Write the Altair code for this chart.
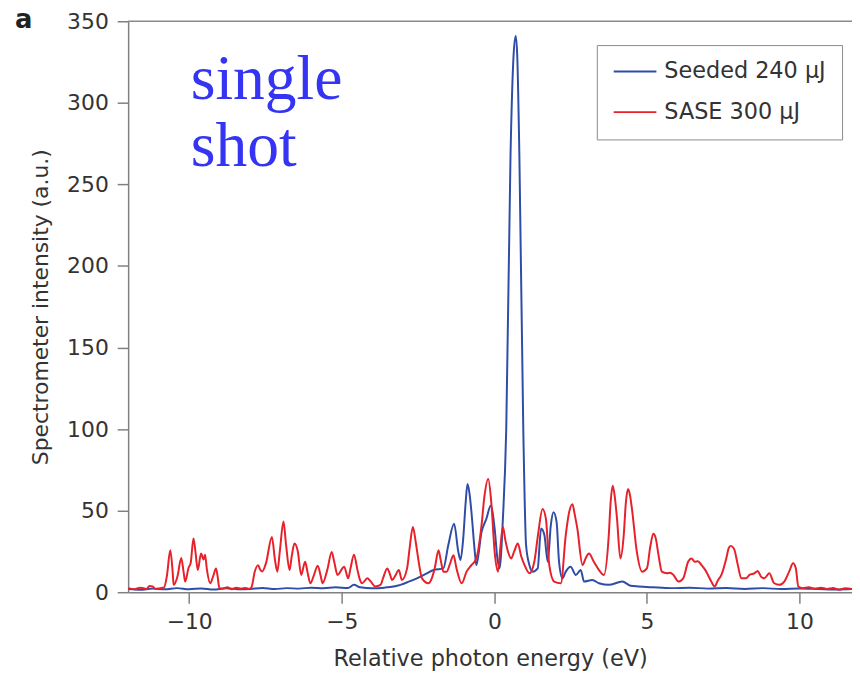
import altair as alt
import pandas as pd

# ---- data -------------------------------------------------------------
seeded_energy = [
    -12.0, -11.6, -11.2, -10.8, -10.4, -10.0, -9.6, -9.2, -8.8, -8.4,
    -8.0, -7.6, -7.2, -6.8, -6.4, -6.0, -5.6, -5.2, -4.8, -4.6,
    -4.4, -4.0, -3.6, -3.3, -3.08, -2.8, -2.54, -2.21, -1.99, -1.67,
    -1.51, -1.32, -1.18, -1.11, -1.02, -0.94, -0.88, -0.81, -0.75, -0.64,
    -0.59, -0.42, -0.26, -0.12, 0.01, 0.10, 0.17, 0.28, 0.39, 0.53,
    0.63, 0.70, 0.75, 0.82, 0.95, 1.04, 1.15, 1.26, 1.42, 1.53,
    1.64, 1.75, 1.85, 1.94, 2.04, 2.12, 2.23, 2.34, 2.50, 2.67,
    2.83, 2.94, 3.21, 3.43, 3.75, 4.19, 4.46, 4.73, 5.2, 5.8,
    6.4, 7.0, 7.6, 8.2, 8.8, 9.4, 10.0, 10.6, 11.2, 11.72,
]
seeded_intensity = [
    2.0, 1.5, 2.2, 1.8, 2.5, 1.8, 2.3, 1.6, 2.4, 1.8,
    2.0, 2.6, 1.9, 2.5, 2.2, 2.8, 2.4, 3.0, 2.6, 4.5,
    3.0, 2.4, 2.8, 3.5, 4.5, 6.5, 8.5, 11.6, 13.6, 14.6,
    28.8, 42, 24.7, 19.7, 32.9, 55, 66.3, 60, 49, 24.7,
    16.6, 36.9, 45, 53, 39, 20.7, 14.6, 45, 100, 268,
    329, 341, 329, 268, 98, 28.8, 16.6, 12.6, 14.6, 39,
    35, 18.7, 41, 49, 43, 18.7, 8.5, 12.6, 15.6, 10.6,
    13.6, 6.5, 7.5, 5.5, 4.5, 6.5, 4.0, 3.5, 3.0, 2.5,
    2.8, 2.2, 2.6, 2.0, 2.5, 1.9, 2.3, 2.0, 1.6, 1.9,
]

sase_energy = [
    -12.0, -11.8, -11.6, -11.4, -11.3, -11.2, -11.1, -10.95, -10.82, -10.73,
    -10.62, -10.54, -10.51, -10.38, -10.26, -10.18, -10.13, -10.02, -9.95, -9.86,
    -9.79, -9.72, -9.61, -9.53, -9.48, -9.42, -9.31, -9.21, -9.12, -9.07,
    -9.01, -8.9, -8.75, -8.6, -8.45, -8.3, -8.15, -8.05, -7.96, -7.85,
    -7.74, -7.68, -7.61, -7.48, -7.29, -7.19, -7.11, -7.03, -6.91, -6.83,
    -6.71, -6.64, -6.55, -6.44, -6.33, -6.20, -6.12, -6.03, -5.92, -5.79,
    -5.69, -5.63, -5.47, -5.33, -5.24, -5.14, -4.92, -4.79, -4.72, -4.60,
    -4.49, -4.42, -4.33, -4.16, -4.07, -3.90, -3.73, -3.64, -3.51, -3.42,
    -3.35, -3.25, -3.13, -3.03, -2.86, -2.77, -2.67, -2.57, -2.48, -2.37,
    -2.16, -2.05, -1.95, -1.83, -1.76, -1.67, -1.56, -1.46, -1.34, -1.24,
    -1.07, -0.91, -0.75, -0.59, -0.42, -0.33, -0.20, -0.10, 0.01, 0.12,
    0.20, 0.28, 0.36, 0.45, 0.55, 0.65, 0.77, 0.88, 0.99, 1.15,
    1.31, 1.43, 1.58, 1.69, 1.80, 1.96, 2.18, 2.34, 2.44, 2.56,
    2.63, 2.72, 2.89, 2.99, 3.10, 3.26, 3.43, 3.59, 3.75, 3.81,
    3.88, 3.95, 4.02, 4.13, 4.24, 4.31, 4.38, 4.44, 4.51, 4.67,
    4.84, 5.00, 5.11, 5.21, 5.29, 5.38, 5.49, 5.65, 5.76, 5.87,
    6.03, 6.19, 6.35, 6.46, 6.57, 6.67, 6.79, 6.90, 7.00, 7.11,
    7.22, 7.32, 7.44, 7.60, 7.68, 7.74, 7.85, 7.98, 8.09, 8.25,
    8.36, 8.52, 8.63, 8.74, 8.85, 9.01, 9.17, 9.34, 9.50, 9.66,
    9.79, 9.88, 9.96, 10.1, 10.3, 10.5, 10.7, 10.9, 11.1, 11.3,
    11.5, 11.72,
]
sase_intensity = [
    2.5, 1.8, 2.8, 2.0, 3.8, 3.5, 2.0, 2.5, 3.0, 10,
    25.7, 12, 4.5, 10, 21, 12, 6.5, 15, 18, 33,
    24, 13.6, 23.7, 20, 23, 14, 5.5, 10, 14.6, 10,
    2.5, 2.2, 3.0, 1.8, 2.8, 2.2, 2.6, 2.0, 3.0, 12.7,
    16.6, 14, 12.7, 18, 33.9, 20, 12.6, 25, 43.4, 30,
    13.6, 22, 29.8, 25, 10.6, 18.7, 12, 5.5, 10, 16.2,
    10, 5.5, 14, 24.7, 18, 10.6, 15.6, 8.5, 14, 23,
    14, 8.5, 5.5, 8.5, 7, 3.5, 4.5, 9, 14.6, 11,
    7.5, 10, 13.6, 7.5, 14.6, 28, 40, 30, 18.7, 8.5,
    5.5, 8.5, 15, 25.7, 20, 12.6, 12.6, 17, 22.7, 14.6,
    5.5, 12.6, 16.6, 20.7, 41, 58, 69.4, 55, 24.7, 12.6,
    28, 40, 32, 24.7, 20.7, 25, 29.8, 22, 16.6, 11.6,
    18.7, 35, 51, 45, 16.6, 6.5, 5.5, 35, 48, 54,
    48, 39, 16.6, 20.7, 23.7, 18.7, 13.6, 10.6, 35, 55,
    65.3, 58, 45, 20.7, 35, 55, 63.3, 60, 51, 24.7,
    12.6, 14.6, 28, 35.9, 33, 22.7, 12.6, 11.6, 12, 10.6,
    6.5, 8.5, 18.7, 20.7, 18.7, 19, 16.6, 14, 10.6, 6.5,
    3.5, 7, 10.6, 20.7, 27, 28.4, 26.8, 16.6, 8.5, 8.5,
    10.6, 11.6, 13, 9.5, 8.5, 11.6, 5.5, 4.5, 6.5, 12.6,
    17.7, 14.6, 3.5, 2.5, 3.0, 2.2, 2.8, 2.0, 2.6, 1.5,
    2.4, 2.0,
]

series_names = ["Seeded 240 \u03bcJ", "SASE 300 \u03bcJ"]
series_colors = ["#2f4da6", "#e6212a"]

x_ticks = [-10, -5, 0, 5, 10]
y_ticks = [0, 50, 100, 150, 200, 250, 300, 350]
x_domain = [-12, 11.72]
y_domain = [0, 350]

note_text = ["single", "shot"]
note_energy = [-9.95, -9.95]
note_level = [302.5, 261.0]

# ---- tables ------------------------------------------------------------
df = pd.concat([
    pd.DataFrame({"energy": seeded_energy, "intensity": seeded_intensity,
                  "series": series_names[0]}),
    pd.DataFrame({"energy": sase_energy, "intensity": sase_intensity,
                  "series": series_names[1]}),
], ignore_index=True)
df["order"] = range(len(df))

notes = pd.DataFrame({"t": note_text, "energy": note_energy, "intensity": note_level})

FONT = "DejaVu Sans"

x_enc = alt.X("energy:Q",
              scale=alt.Scale(domain=x_domain, nice=False, zero=False),
              axis=alt.Axis(values=x_ticks, title="Relative photon energy (eV)",
                            tickSize=11, labelPadding=9, titlePadding=15,
                            titleFontSize=22.5))
y_enc = alt.Y("intensity:Q",
              scale=alt.Scale(domain=y_domain, nice=False),
              axis=alt.Axis(values=y_ticks, title="Spectrometer intensity (a.u.)",
                            tickSize=11, labelPadding=9, titlePadding=14,
                            titleFontSize=22))
color_enc = alt.Color("series:N",
                      scale=alt.Scale(domain=series_names, range=series_colors),
                      legend=alt.Legend(title=None, orient="none",
                                        legendX=472, legendY=24,
                                        symbolType="stroke", symbolSize=1849,
                                        symbolStrokeWidth=2, labelFontSize=22.5,
                                        labelFont=FONT, labelColor="#333333",
                                        labelOffset=7, labelLimit=400,
                                        clipHeight=21, rowPadding=18, padding=16,
                                        strokeColor="#8a8a8a", fillColor="white"))

base = alt.Chart(df)
seeded = base.transform_filter(alt.datum.series == series_names[0]).mark_line(
    strokeWidth=2, clip=True, interpolate="monotone"
).encode(x=x_enc, y=y_enc, color=color_enc, order="order:Q")
sase = base.transform_filter(alt.datum.series == series_names[1]).mark_line(
    strokeWidth=2, clip=True, interpolate="monotone"
).encode(x=x_enc, y=y_enc, color=color_enc, order="order:Q")

top_frame = alt.Chart(pd.DataFrame({"intensity": [y_domain[1]]})).mark_rule(
    color="#8a8a8a", strokeWidth=1.5
).encode(y="intensity:Q")

note = alt.Chart(notes).mark_text(
    font="Liberation Serif", fontSize=64, color="#3434f2",
    align="left", baseline="alphabetic"
).encode(x="energy:Q", y="intensity:Q", text="t:N")

panel = alt.Chart(pd.DataFrame({"t": ["a"]})).mark_text(
    font=FONT, fontWeight="bold", fontSize=26, color="#222222",
    align="left", baseline="alphabetic"
).encode(x=alt.value(-114), y=alt.value(7), text="t:N")

chart = alt.layer(seeded, sase, top_frame, note, panel).properties(
    width=729, height=575,
    padding={"left": 121, "top": 11, "right": 0, "bottom": 78},
    autosize=alt.AutoSizeParams(type="none"),
).configure_view(stroke=None).configure_axis(
    labelFont=FONT, titleFont=FONT, labelFontSize=22,
    labelColor="#333333", titleColor="#333333", titleFontWeight="normal",
    domainColor="#808080", tickColor="#808080", domainWidth=1.5, tickWidth=1.5,
    grid=False,
)

chart.save("out.html", embed_options={"renderer": "svg", "actions": False})
